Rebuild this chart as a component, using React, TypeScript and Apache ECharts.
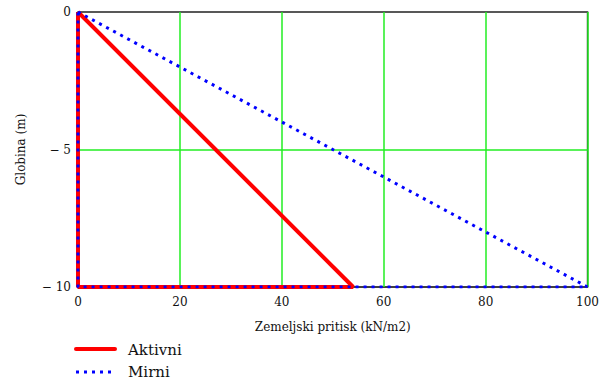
import React, { useEffect, useRef } from "react";
import * as echarts from "echarts";

const aktivniX = [0, 54, 0, 0];
const aktivniY = [0, -10, -10, 0];
const mirniX = [0, 100, 0, 0];
const mirniY = [0, -10, -10, 0];
const seriesNames = ["Aktivni", "Mirni"];
const xTitle = "Zemeljski pritisk (kN/m2)";
const yTitle = "Globina (m)";

const FONT = "DejaVu Serif";
const GREEN = "#22ee22";

export default function App() {
  const ref = useRef<HTMLDivElement>(null);
  useEffect(() => {
    if (!ref.current) return;
    const chart = echarts.init(ref.current, null, { renderer: "svg" });
    const pairs = (xs: number[], ys: number[]) => xs.map((x, i) => [x, ys[i]]);
    const red = { color: "#ff0000", width: 4 };
    const blue = { color: "#0000ff", width: 3, type: [3, 5] as number[] };
    const legendText = (name: string, y: number) => ({
      type: "text",
      x: 128,
      y,
      style: {
        text: name,
        fontFamily: FONT,
        fontSize: 15,
        fill: "#111",
        verticalAlign: "middle",
      },
    });
    chart.setOption({
      animation: false,
      backgroundColor: "#ffffff",
      textStyle: { fontFamily: FONT },
      grid: {
        left: 78,
        right: 11,
        top: 12,
        bottom: 96,
        show: true,
        borderColor: "#333",
        borderWidth: 1.5,
      },
      graphic: [
        {
          type: "line",
          shape: { x1: 76, y1: 349, x2: 115, y2: 349 },
          style: { stroke: red.color, lineWidth: red.width, lineCap: "round" },
        },
        legendText(seriesNames[0], 350),
        {
          type: "line",
          shape: { x1: 76, y1: 372, x2: 116, y2: 372 },
          style: { stroke: blue.color, lineWidth: blue.width, lineDash: blue.type },
        },
        legendText(seriesNames[1], 372),
      ],
      xAxis: {
        type: "value",
        min: 0,
        max: 100,
        interval: 20,
        name: xTitle,
        nameLocation: "middle",
        nameGap: 34,
        nameTextStyle: { fontFamily: FONT, fontSize: 12, color: "#111" },
        axisLine: { show: false },
        axisTick: { show: false },
        axisLabel: { fontFamily: FONT, fontSize: 12, color: "#111", margin: 9 },
        splitLine: {
          show: true,
          lineStyle: { color: ["#333", GREEN, GREEN, GREEN, GREEN, GREEN], width: 1.5 },
        },
      },
      yAxis: {
        type: "value",
        min: -10,
        max: 0,
        interval: 5,
        name: yTitle,
        nameLocation: "middle",
        nameGap: 51,
        nameRotate: 90,
        nameTextStyle: { fontFamily: FONT, fontSize: 12, color: "#111" },
        axisLine: { show: false },
        axisTick: { show: false },
        axisLabel: {
          fontFamily: FONT,
          fontSize: 12,
          color: "#111",
          margin: 7,
          formatter: (v: number) => (v < 0 ? "\u2212 " + Math.abs(v) : String(v)),
        },
        splitLine: {
          show: true,
          lineStyle: { color: ["#333", GREEN, "#555"], width: 1.5 },
        },
      },
      series: [
        {
          name: seriesNames[0],
          type: "line",
          data: pairs(aktivniX, aktivniY),
          symbol: "none",
          lineStyle: red,
          itemStyle: { color: red.color },
          z: 3,
        },
        {
          name: seriesNames[1],
          type: "line",
          data: pairs(mirniX, mirniY),
          symbol: "none",
          lineStyle: blue,
          itemStyle: { color: blue.color },
          z: 4,
        },
      ],
    });
    return () => chart.dispose();
  }, []);
  return (
    <div
      ref={ref}
      style={{ position: "fixed", left: 0, top: 0, width: 602, height: 383 }}
    />
  );
}
